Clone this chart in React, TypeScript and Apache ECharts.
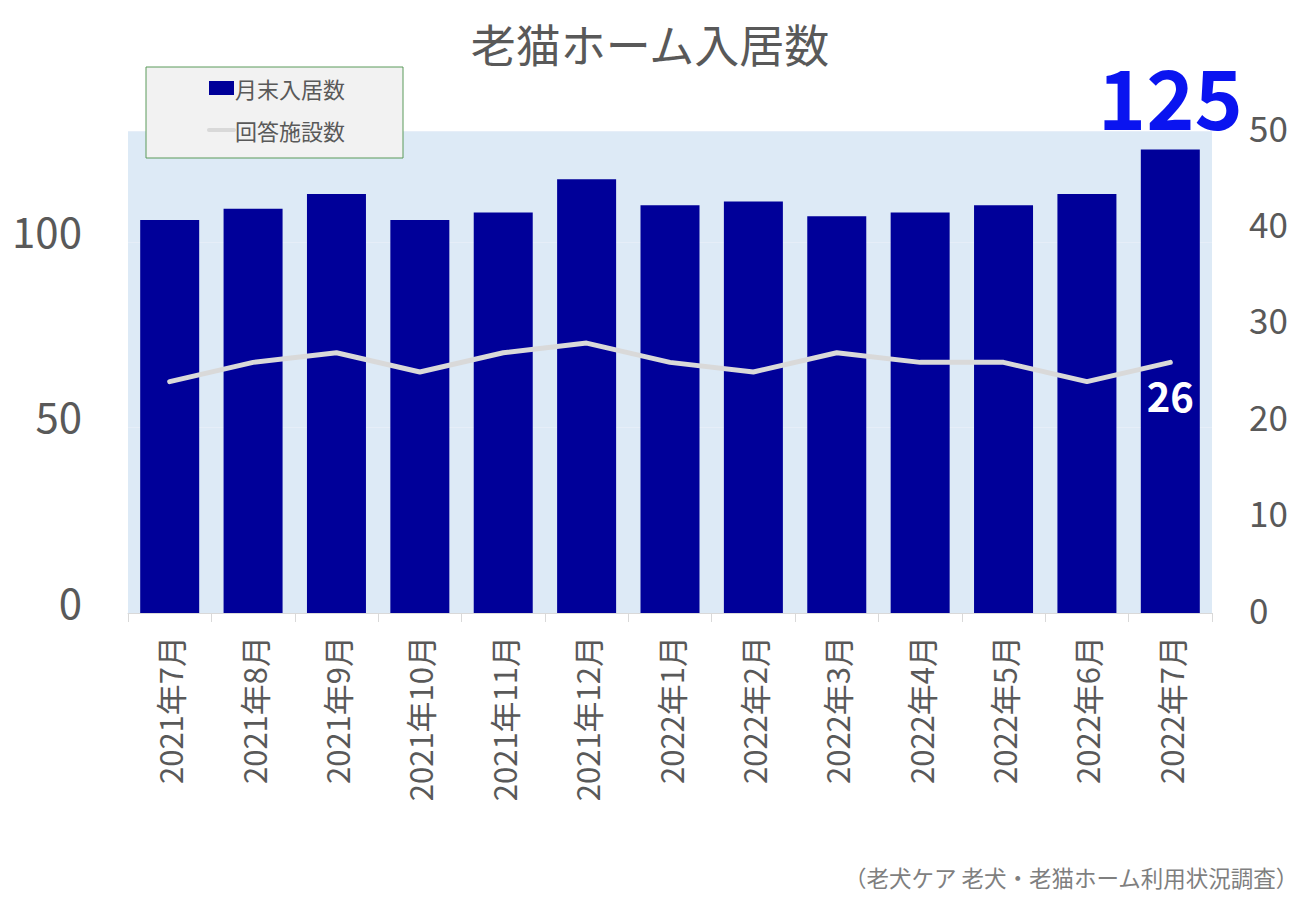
import React, { useEffect, useRef } from "react";
import * as echarts from "echarts";

const categories = [
  "2021年7月", "2021年8月", "2021年9月", "2021年10月", "2021年11月", "2021年12月",
  "2022年1月", "2022年2月", "2022年3月", "2022年4月", "2022年5月", "2022年6月", "2022年7月",
];
const residents = [106, 109, 113, 106, 108, 117, 110, 111, 107, 108, 110, 113, 125];
const facilities = [24, 26, 27, 25, 27, 28, 26, 25, 27, 26, 26, 24, 26];

const FONT = "'Noto Sans CJK JP', 'Noto Sans', sans-serif";
const GRAY = "#595959";

export default function App() {
  const ref = useRef<HTMLDivElement>(null);
  useEffect(() => {
    const chart = echarts.init(ref.current!, null, { renderer: "svg" });
    const last = residents.length - 1;
    chart.setOption({
      animation: false,
      backgroundColor: "#ffffff",
      textStyle: { fontFamily: FONT },
      title: {
        text: "老猫ホーム入居数",
        left: "center",
        top: 16,
        textStyle: { fontFamily: FONT, fontSize: 45, fontWeight: "normal", color: GRAY },
      },
      legend: {
        orient: "vertical",
        left: 146,
        top: 67,
        backgroundColor: "#f2f2f2",
        borderColor: "#5b9a5b",
        borderWidth: 1,
        padding: [10, 58, 17, 61],
        itemGap: 20,
        itemWidth: 25,
        itemHeight: 14,
        textStyle: { fontFamily: FONT, fontSize: 22, color: GRAY, padding: [0, 0, 0, -4] },
        data: [
          { name: "月末入居数", icon: "rect" },
          {
            name: "回答施設数",
            itemStyle: { color: "rgba(0,0,0,0)", borderWidth: 0 },
            lineStyle: { color: "#d9d9d9", width: 4 },
          },
        ],
      },
      graphic: [
        {
          type: "text",
          right: 1,
          top: 866,
          style: {
            text: "（老犬ケア 老犬・老猫ホーム利用状況調査）",
            fontFamily: FONT,
            fontSize: 22.5,
            fill: "#7f7f7f",
          },
        },
      ],
      grid: {
        left: 128,
        right: 88,
        top: 131,
        bottom: 287,
        show: true,
        backgroundColor: "#ddeaf6",
        borderWidth: 0,
      },
      xAxis: {
        type: "category",
        data: categories,
        axisLine: { show: true, lineStyle: { color: "#d9d9d9", width: 1 } },
        axisTick: { show: true, length: 9, lineStyle: { color: "#d9d9d9" } },
        axisLabel: {
          rotate: 90,
          margin: 23,
          fontFamily: FONT,
          fontSize: 31,
          color: GRAY,
        },
      },
      yAxis: [
        {
          type: "value",
          min: 0,
          max: 130,
          interval: 50,
          axisLine: { show: false },
          axisTick: { show: false },
          splitLine: { show: true, lineStyle: { color: "#e6eef8", width: 1 } },
          axisLabel: {
            showMaxLabel: false,
            margin: 46,
            fontFamily: FONT,
            fontSize: 42,
            color: GRAY,
            verticalAlign: "bottom",
            lineHeight: 26,
          },
        },
        {
          type: "value",
          min: 0,
          max: 50,
          interval: 10,
          axisLine: { show: false },
          axisTick: { show: false },
          splitLine: { show: false },
          axisLabel: {
            margin: 37,
            fontFamily: FONT,
            fontSize: 35,
            color: GRAY,
            verticalAlign: "bottom",
            lineHeight: 10,
          },
        },
      ],
      series: [
        {
          name: "月末入居数",
          type: "bar",
          yAxisIndex: 0,
          barWidth: 59,
          itemStyle: { color: "#000099" },
          data: residents.map((v, i) =>
            i === last
              ? {
                  value: v,
                  label: {
                    show: true,
                    position: "top",
                    distance: 14,
                    fontFamily: FONT,
                    fontSize: 82,
                    fontWeight: "bold",
                    color: "#0a14f0",
                  },
                }
              : v
          ),
        },
        {
          name: "回答施設数",
          type: "line",
          yAxisIndex: 1,
          symbol: "none",
          lineStyle: { color: "#d9d9d9", width: 5, cap: "round" },
          itemStyle: { color: "#d9d9d9" },
          data: facilities.map((v, i) =>
            i === last
              ? {
                  value: v,
                  symbol: "circle",
                  symbolSize: 1,
                  label: {
                    show: true,
                    position: "bottom",
                    distance: 12,
                    fontFamily: FONT,
                    fontSize: 40,
                    fontWeight: "bold",
                    color: "#ffffff",
                  },
                }
              : v
          ),
        },
      ],
    });
    return () => chart.dispose();
  }, []);
  return <div ref={ref} style={{ width: 1300, height: 900, margin: -8 }} />;
}
